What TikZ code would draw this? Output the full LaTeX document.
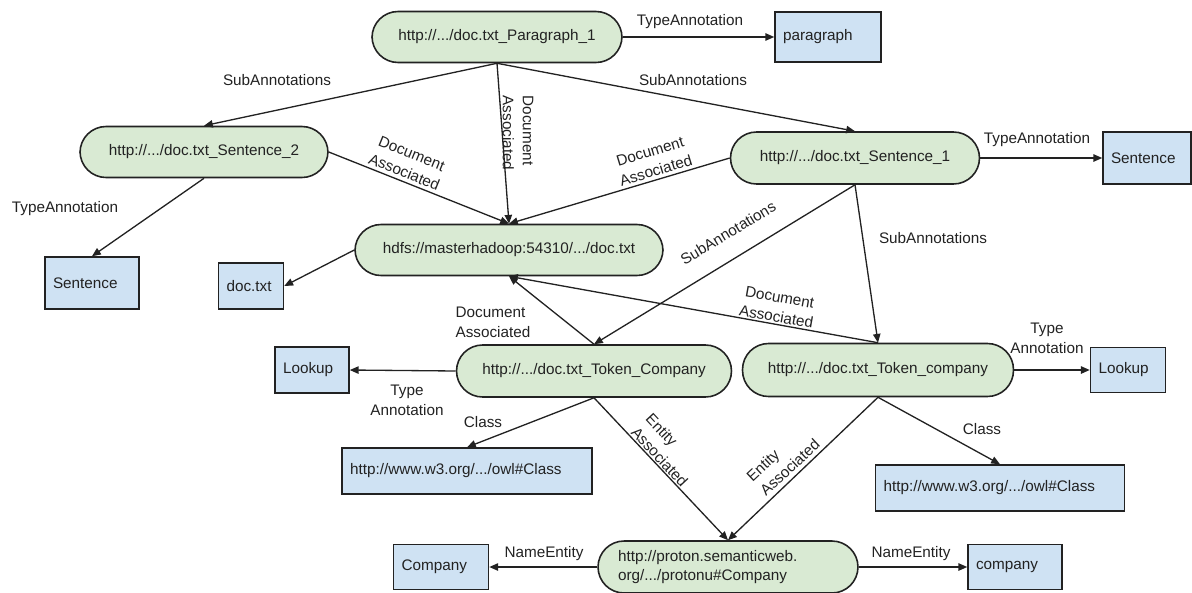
\documentclass[tikz,border=0pt]{standalone}
\usepackage{fontspec}
\setmainfont{Liberation Sans}
\usetikzlibrary{arrows.meta}
\definecolor{annfill}{HTML}{D9EAD3}
\definecolor{boxfill}{HTML}{CFE2F3}
\definecolor{ink}{HTML}{222222}
\begin{document}
\begin{tikzpicture}[x=0.02cm, y=-0.02cm,
  every node/.style={font=\fontsize{8.7}{11.3}\selectfont, text=ink},
  ann/.style={draw=ink, line width=0.9pt, fill=annfill, rectangle,
    rounded corners=0.52cm, inner sep=0pt, minimum width=#1},
  res/.style={draw=ink, line width=0.9pt, fill=boxfill, rectangle,
    inner xsep=0.16cm, inner ysep=0pt, text width=#1, align=left},
  lbl/.style={inner sep=0pt, align=center},
  lbll/.style={inner sep=0pt, align=left},
  arr/.style={draw=ink, line width=0.75pt, -{Triangle[length=5pt,width=4.2pt]}}
]
\useasboundingbox (0,0) rectangle (1192,592);

% annotation resources (green)
\node[ann=5cm, minimum height=1.02cm] (par) at (497,37) {http://.../doc.txt\_Paragraph\_1};
\node[ann=4.96cm, minimum height=1.02cm] (s2) at (204,152) {http://.../doc.txt\_Sentence\_2};
\node[ann=4.98cm, minimum height=1.04cm] (s1) at (855,158) {http://.../doc.txt\_Sentence\_1};
\node[ann=6.16cm, minimum height=1.02cm] (hdfs) at (509,250) {hdfs://masterhadoop:54310/.../doc.txt};
\node[ann=5.5cm, minimum height=1.04cm] (tc) at (594,371) {http://.../doc.txt\_Token\_Company};
\node[ann=5.42cm, minimum height=1.06cm] (tk) at (878,370) {http://.../doc.txt\_Token\_company};
\node[ann=5.2cm, minimum height=1.04cm, text width=4.4cm, align=left] (proton) at (728,567)
  {http://proton.semanticweb.\\org/.../protonu\#Company};

% literal / type boxes (blue)
\node[res=1.8cm, minimum height=1.0cm] (parbox) at (828,37) {paragraph};
\node[res=1.44cm, minimum height=1.04cm] (sentR) at (1147,158) {Sentence};
\node[res=1.56cm, minimum height=1.04cm] (sentL) at (92,283) {Sentence};
\node[res=0.98cm, minimum height=0.92cm] (doctxt) at (251,286) {doc.txt};
\node[res=1.16cm, minimum height=0.92cm] (lookL) at (312,370) {Lookup};
\node[res=1.18cm, minimum height=0.9cm] (lookR) at (1128,370) {Lookup};
\node[res=4.68cm, minimum height=0.92cm] (owlL) at (467,471) {http://www.w3.org/.../owl\#Class};
\node[res=4.66cm, minimum height=0.92cm] (owlR) at (1000,488) {http://www.w3.org/.../owl\#Class};
\node[res=1.58cm, minimum height=0.9cm] (compL) at (441,567) {Company};
\node[res=1.56cm, minimum height=0.9cm] (compR) at (1015,567) {company};

% relations
\draw[arr] (par.east) -- (parbox.west);
\draw[arr] (par.south) -- (s2.north);
\draw[arr] (par.south) -- (hdfs.north);
\draw[arr] (par.south) -- (s1.north);
\draw[arr] (s2.east) -- (hdfs.north);
\draw[arr] (s1.west) -- (hdfs.north);
\draw[arr] (s2.south) -- (sentL.north);
\draw[arr] (s1.east) -- (sentR.west);
\draw[arr] (hdfs.west) -- (doctxt.east);
\draw[arr] (s1.south) -- (tc.north);
\draw[arr] (s1.south) -- (tk.north);
\draw[arr] (tc.north) -- (hdfs.south);
\draw[arr] (tk.north) -- (hdfs.south);
\draw[arr] (tc.west) -- (lookL.east);
\draw[arr] (tk.east) -- (lookR.west);
\draw[arr] (tc.south) -- (owlL.north);
\draw[arr] (tk.south) -- (owlR.north);
\draw[arr] (tc.south) -- (proton.north);
\draw[arr] (tk.south) -- (proton.north);
\draw[arr] (proton.west) -- (compL.east);
\draw[arr] (proton.east) -- (compR.west);

% relation labels
\node[lbl] (lTApar) at (690,22) {TypeAnnotation};
\node[lbl] (lSAs2) at (277,80) {SubAnnotations};
\node[lbl] (lSAs1) at (693,80) {SubAnnotations};
\node[lbll, rotate=-90] (lDApar) at (518,133) {Document\\Associated};
\node[lbl, rotate=-22] (lDAs2) at (408,163) {Document\\Associated};
\node[lbl, rotate=17] (lDAs1) at (653,161) {Document\\Associated};
\node[lbl] (lTAs2) at (65,209) {TypeAnnotation};
\node[lbl] (lTAs1) at (1037,140) {TypeAnnotation};
\node[lbl, rotate=31] (lSAtc) at (728,233) {SubAnnotations};
\node[lbl] (lSAtk) at (933,238) {SubAnnotations};
\node[lbll] (lDAtc) at (493,322) {Document\\Associated};
\node[lbl, rotate=-10] (lDAtk) at (778,307) {Document\\Associated};
\node[lbl] (lTAtc) at (407,400) {Type\\Annotation};
\node[lbl] (lTAtk) at (1047,338) {Type\\Annotation};
\node[lbl] (lCtc) at (483,422) {Class};
\node[lbl] (lCtk) at (982,429) {Class};
\node[lbll, rotate=-47] (lEAtc) at (667,450) {Entity\\Associated};
\node[lbll, rotate=43] (lEAtk) at (783,460) {Entity\\Associated};
\node[lbl] (lNEl) at (544,554) {NameEntity};
\node[lbl] (lNEr) at (911,554) {NameEntity};
\end{tikzpicture}
\end{document}
